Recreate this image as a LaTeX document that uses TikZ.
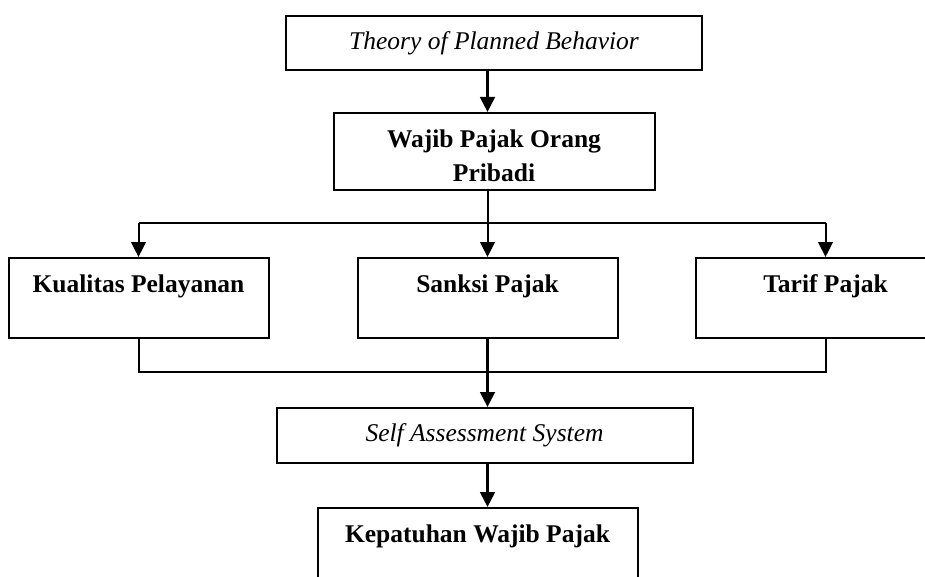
\documentclass[tikz,border=0pt]{standalone}
\usepackage{fontspec}
\setmainfont{Liberation Serif}
\usepackage{tikz}
\usetikzlibrary{arrows.meta, positioning}
\tikzset{
  widebox/.style={rectangle, draw=black, line width=1pt, minimum width=208pt, minimum height=27pt,
                  inner sep=0pt, align=center, font=\fontsize{12.75}{17}\selectfont\itshape},
  subject/.style={rectangle, draw=black, line width=1pt, minimum width=160.5pt, inner ysep=0pt,
                  text height=34.5pt, text depth=4pt, align=center, font=\fontsize{12.75}{17}\selectfont\bfseries},
  factor/.style={rectangle, draw=black, line width=1pt, minimum width=130pt, inner ysep=0pt,
                 text height=17pt, text depth=23pt, font=\fontsize{12.75}{17}\selectfont\bfseries},
  arrow/.style={-{Triangle[length=7.5pt, width=7.3pt]}, line width=1.5pt},
  branch/.style={-{Triangle[length=7.5pt, width=7.3pt]}, line width=1pt},
  link/.style={line width=1pt}
}
\begin{document}
\begin{tikzpicture}
\useasboundingbox (0,0) rectangle (462.5pt,-288.5pt);
\node (tpb) [widebox] at (247pt,-21.5pt) {Theory of Planned Behavior};
\node (wp) [subject, node distance=54.25pt, below of=tpb] {Wajib Pajak Orang\\Pribadi};
\node (sp) [factor, node distance=73.25pt, below of=wp, xshift=-3.25pt] {Sanksi Pajak};
\node (kp) [factor, node distance=174.5pt, left of=sp] {Kualitas Pelayanan};
\node (tp) [factor, node distance=169pt, right of=sp] {Tarif Pajak};
\node (sas) [widebox, minimum height=27.5pt, node distance=68.75pt, below of=sp, xshift=-1.5pt] {Self Assessment System};
\node (kwp) [factor, minimum width=160pt, node distance=56.25pt, below of=sas, xshift=-3.5pt] {Kepatuhan Wajib Pajak};

% Fork and join points
\coordinate (fork) at (sp |- 0,-111.5pt);
\coordinate (join) at (sp |- 0,-186pt);

% Arrows
\draw [arrow] (tpb.south -| sp) -- (wp.north -| sp);
\draw [link] (wp.south -| sp) -- (fork);
\draw [link] (fork -| kp) -- (fork -| tp);
\draw [branch] (fork -| kp) -- (kp.north);
\draw [branch] (fork) -- (sp.north);
\draw [branch] (fork -| tp) -- (tp.north);
\draw [link] (kp.south) |- (join) -| (tp.south);
\draw [arrow] (sp.south) -- (sas.north -| sp);
\draw [arrow] (sas.south -| sp) -- (kwp.north -| sp);
\end{tikzpicture}
\end{document}
